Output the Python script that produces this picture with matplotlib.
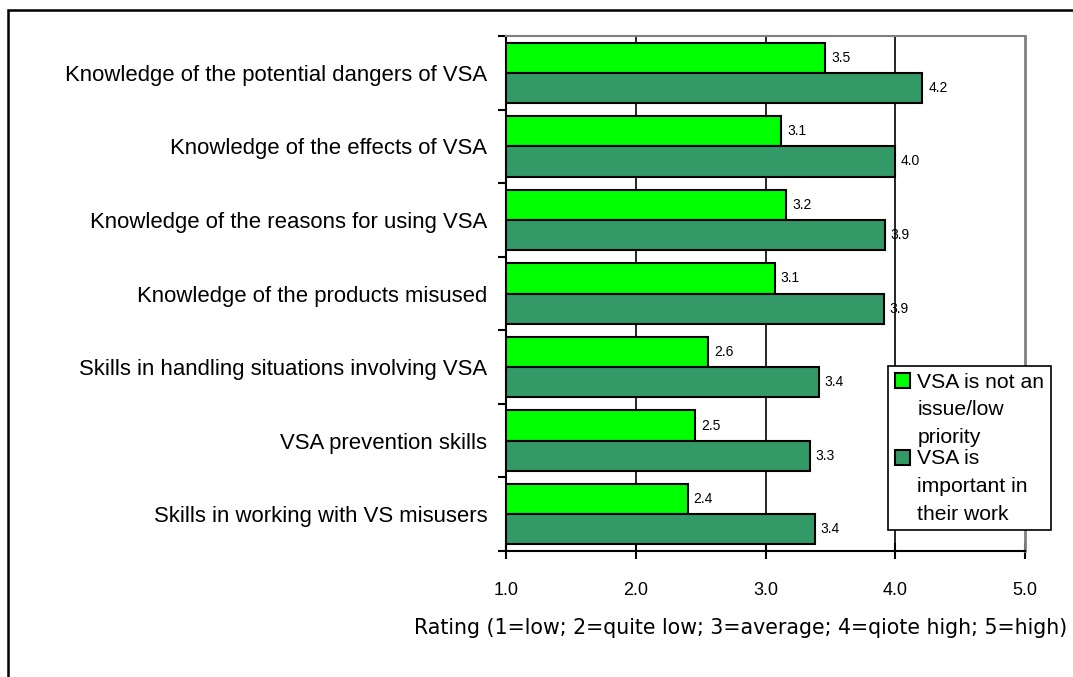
import matplotlib.pyplot as plt
import matplotlib.patches as mpatches
from matplotlib.container import BarContainer
from matplotlib.legend_handler import HandlerPatch, update_from_first_child
import numpy as np

plt.rcParams["font.family"] = ["Liberation Sans", "DejaVu Sans"]

categories = [
    "Knowledge of the potential dangers of VSA",
    "Knowledge of the effects of VSA",
    "Knowledge of the reasons for using VSA",
    "Knowledge of the products misused",
    "Skills in handling situations involving VSA",
    "VSA prevention skills",
    "Skills in working with VS misusers",
]
low_priority = [3.46, 3.12, 3.16, 3.07, 2.56, 2.46, 2.40]
important = [4.21, 4.00, 3.92, 3.91, 3.41, 3.34, 3.38]
series_names = ["VSA is not an\nissue/low\npriority", "VSA is\nimportant in\ntheir work"]
x_ticks = [1.0, 2.0, 3.0, 4.0, 5.0]
x_label = "Rating (1=low; 2=quite low; 3=average; 4=qiote high; 5=high)"

W, H = 1073, 677
fig = plt.figure(figsize=(W / 100, H / 100), dpi=100)
ax = fig.add_axes([506 / W, 1 - 551 / H, (1025 - 506) / W, (551 - 36) / H])

n = len(categories)
y = np.arange(n)
bh = 0.41
ax.barh(y - bh / 2, [v - 1 for v in low_priority], left=1, height=bh,
        color="#00FF00", edgecolor="black", linewidth=1.5, zorder=3,
        label=series_names[0])
ax.barh(y + bh / 2, [v - 1 for v in important], left=1, height=bh,
        color="#339966", edgecolor="black", linewidth=1.5, zorder=3,
        label=series_names[1])

for i in range(n):
    ax.text(low_priority[i] + 0.045, y[i] - bh / 2, f"{low_priority[i]:.1f}",
            va="center", ha="left", fontsize=10, zorder=4)
    ax.text(important[i] + 0.045, y[i] + bh / 2, f"{important[i]:.1f}",
            va="center", ha="left", fontsize=10, zorder=4)

ax.set_xlim(1, 5)
ax.set_ylim(n - 0.5, -0.5)
ax.set_xticks(x_ticks)
ax.set_xticklabels([f"{t:.1f}" for t in x_ticks], fontsize=13)
ax.tick_params(axis="x", direction="inout", length=12, width=1.5, pad=16)

ax.set_yticks(np.arange(n + 1) - 0.5)
ax.set_yticklabels([])
ax.tick_params(axis="y", which="major", direction="out", length=6, width=1.5)
ax.set_yticks(y, minor=True)
ax.set_yticklabels(categories, minor=True, fontsize=15.9)
ax.tick_params(axis="y", which="minor", length=0, pad=13.5)

for xv in x_ticks[1:-1]:
    ax.axvline(xv, color="black", linewidth=1.2, zorder=1)

ax.spines["left"].set_linewidth(1.5)
ax.spines["bottom"].set_linewidth(1.5)
ax.spines["top"].set_color("#808080")
ax.spines["right"].set_color("#808080")
ax.spines["top"].set_linewidth(1.5)
ax.spines["right"].set_linewidth(2)

fig.text(741 / W, 1 - 634 / H, x_label, ha="center", va="baseline",
         fontsize=14.8, family="DejaVu Sans")

LEG_FS = 15.2
LEG_LS = 1.58


def top_square(legend, orig_handle, xdescent, ydescent, width, height, fontsize):
    # square sits beside the first line of a three-line label
    shift = 0.88 * LEG_LS * fontsize
    return mpatches.Rectangle((-xdescent, -ydescent + shift), width, height)


leg = fig.legend(loc="upper left", bbox_to_anchor=(888 / W, 1 - 366 / H),
                 fontsize=LEG_FS, frameon=True, fancybox=False, framealpha=1,
                 edgecolor="black", borderpad=0.32, handlelength=0.72,
                 handleheight=0.72, handletextpad=0.35, labelspacing=0.1,
                 borderaxespad=0,
                 handler_map={BarContainer: HandlerPatch(
                     patch_func=top_square, update_func=update_from_first_child)})
leg.get_frame().set_linewidth(1.2)
for t in leg.get_texts():
    t.set_linespacing(LEG_LS)

fig.add_artist(mpatches.Rectangle((8 / W, -0.1), 1.2, 1.1 - 10 / H,
                                  transform=fig.transFigure, fill=False,
                                  edgecolor="black", linewidth=1.8))

fig.savefig("out.png", dpi=100)
